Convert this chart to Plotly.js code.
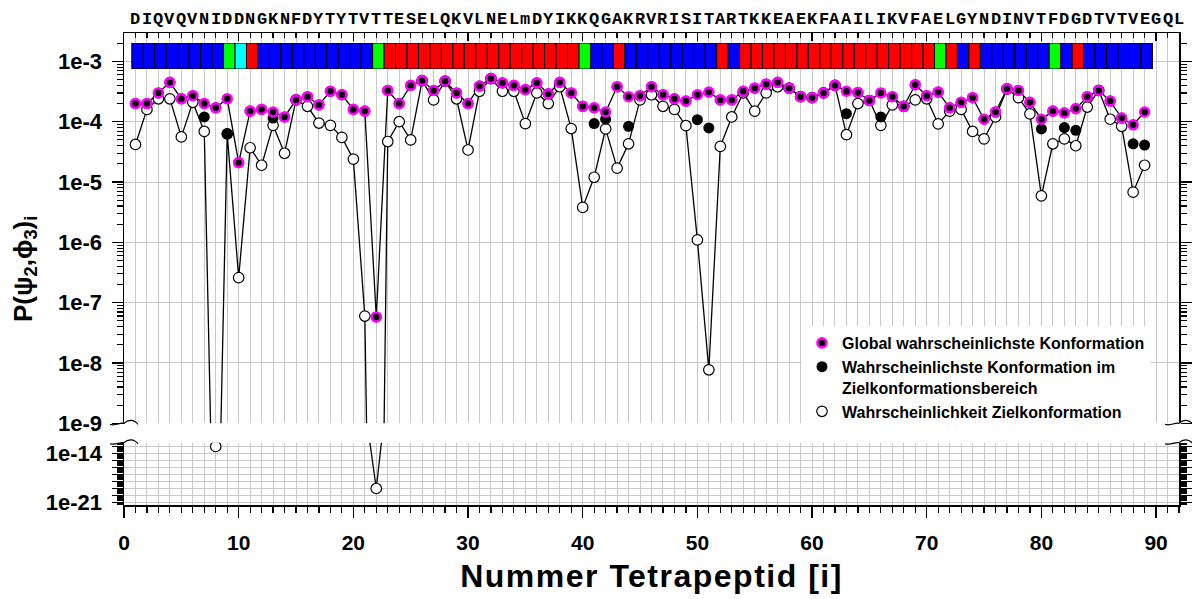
<!DOCTYPE html>
<html><head><meta charset="utf-8">
<script src="https://cdn.plot.ly/plotly-3.0.1.min.js"></script>
<style>html,body{margin:0;padding:0;background:#fff} .xtitle{letter-spacing:1.5px}</style>
</head><body>
<div id="chart" style="width:1192px;height:599px"></div>
<script>
// ---------------- data ----------------
const sequence = "DIQVQVNIDDNGKNFDYTYTVTTESELQKVLNELmDYIKKQGAKRVRISITARTKKEAEKFAAILIKVFAELGYNDINVTFDGDTVTVEGQL";
// secondary-structure class per tetrapeptide (B=blue, G=green, C=cyan, R=red)
const ssClass = "BBBBBBBBGCRBBBBBBBBBBGRRRRRRRRRRRRRRRRRGBBRBBBBBBBBRBRRRRRRRRRRRRRRRRRGRBRBBBBBBGBRBBBBBB".split("");
const globalProb = [2.0e-4,2.0e-4,3.0e-4,4.5e-4,2.4e-4,2.7e-4,2.0e-4,1.7e-4,2.4e-4,2.1e-5,
1.5e-4,1.6e-4,1.45e-4,1.2e-4,2.3e-4,2.6e-4,1.9e-4,3.2e-4,2.8e-4,1.6e-4,
1.5e-4,5.8e-8,3.3e-4,2.0e-4,4.0e-4,4.8e-4,3.3e-4,4.7e-4,3.0e-4,2.0e-4,
3.9e-4,5.2e-4,4.4e-4,4.0e-4,3.4e-4,4.4e-4,2.9e-4,4.5e-4,3.0e-4,1.8e-4,
1.7e-4,1.45e-4,3.8e-4,2.6e-4,2.7e-4,3.8e-4,2.8e-4,2.4e-4,2.2e-4,2.8e-4,
3.1e-4,2.3e-4,2.3e-4,3.2e-4,3.6e-4,4.2e-4,4.5e-4,3.6e-4,2.6e-4,2.5e-4,
3.0e-4,4.0e-4,3.2e-4,3.05e-4,2.25e-4,3.0e-4,2.6e-4,1.8e-4,4.1e-4,2.7e-4,
3.1e-4,1.7e-4,2.1e-4,2.5e-4,1.1e-4,1.45e-4,3.5e-4,3.3e-4,2.1e-4,1.1e-4,
1.5e-4,1.4e-4,1.65e-4,2.6e-4,3.3e-4,2.2e-4,1.15e-4,8.9e-5,1.45e-4];
const regionBestProb = [2.0e-4,2.0e-4,3.0e-4,4.5e-4,2.4e-4,2.7e-4,1.2e-4,1.7e-4,6.3e-5,2.1e-5,
1.5e-4,1.6e-4,1.15e-4,1.2e-4,2.3e-4,2.6e-4,1.9e-4,3.2e-4,2.8e-4,1.6e-4,
1.5e-4,5.8e-8,3.3e-4,2.0e-4,4.0e-4,4.8e-4,3.3e-4,4.7e-4,3.0e-4,2.0e-4,
3.9e-4,5.2e-4,4.4e-4,4.0e-4,3.4e-4,4.4e-4,2.9e-4,4.5e-4,3.0e-4,1.8e-4,
9.3e-5,1.1e-4,3.8e-4,8.4e-5,2.7e-4,3.8e-4,2.8e-4,2.4e-4,2.2e-4,1.08e-4,
7.9e-5,2.3e-4,2.3e-4,3.2e-4,3.6e-4,4.2e-4,4.5e-4,3.6e-4,2.6e-4,2.5e-4,
3.0e-4,4.0e-4,1.36e-4,3.05e-4,2.25e-4,1.2e-4,2.6e-4,1.8e-4,4.1e-4,2.7e-4,
3.1e-4,1.7e-4,2.1e-4,2.5e-4,1.1e-4,1.45e-4,3.5e-4,3.3e-4,2.1e-4,7.6e-5,
1.5e-4,8.0e-5,7.2e-5,2.6e-4,3.3e-4,2.2e-4,1.15e-4,4.3e-5,4.1e-5];
const targetProb = [4.2e-5,1.6e-4,2.4e-4,2.4e-4,5.6e-5,2.1e-4,6.9e-5,1e-13,6.3e-5,2.6e-7,
3.7e-5,1.9e-5,8.7e-5,3.0e-5,2.3e-4,1.8e-4,9.5e-5,8.7e-5,5.5e-5,2.4e-5,
6.0e-8,1e-19,4.7e-5,1.0e-4,5.0e-5,4.8e-4,2.3e-4,4.7e-4,2.4e-4,3.4e-5,
3.2e-4,5.2e-4,3.2e-4,3.2e-4,9.3e-5,3.0e-4,2.0e-4,3.8e-4,7.7e-5,3.8e-6,
1.2e-5,7.6e-5,1.7e-5,4.3e-5,2.3e-4,2.8e-4,1.8e-4,1.6e-4,8.6e-5,1.1e-6,
7.7e-9,3.9e-5,1.2e-4,3.0e-4,1.5e-4,3.0e-4,3.8e-4,3.6e-4,2.6e-4,2.5e-4,
3.0e-4,4.0e-4,6.1e-5,2.0e-4,2.25e-4,8.7e-5,1.9e-4,1.8e-4,2.3e-4,2.4e-4,
9.2e-5,1.5e-4,1.6e-4,6.9e-5,5.2e-5,1.2e-4,3.5e-4,2.5e-4,1.35e-4,5.9e-6,
4.3e-5,5.2e-5,4.0e-5,1.75e-4,3.3e-4,1.1e-4,8.4e-5,6.8e-6,1.9e-5];
const upperTickVals = [1e-9,1e-8,1e-7,1e-6,1e-5,1e-4,1e-3];
const upperTickText = ["1e-9","1e-8","1e-7","1e-6","1e-5","1e-4","1e-3"];
const lowerTickVals = [1e-21,1e-20,1e-19,1e-18,1e-17,1e-16,1e-15,1e-14,1e-13];
const lowerTickText = ["1e-21"," "," "," "," "," "," ","1e-14"," "];
const legendNames = ["Global wahrscheinlichste Konformation",
  "Wahrscheinlichste Konformation im<br>Zielkonformationsbereich",
  "Wahrscheinlichkeit Zielkonformation"];

// ---------------- helpers ----------------
const idx = globalProb.map((_, k) => k + 1);
const seqLetters = sequence.split("");
const ssColors = {B:"#0000ff", G:"#00ff00", C:"#00ffff", R:"#ff0000"};
function minorLog(d0, d1){ const a=[]; for(let d=d0; d<=d1; d++) for(let m=2;m<=9;m++) a.push(m*Math.pow(10,d)); return a; }

const FONT = "Liberation Sans, Arial, sans-serif";
const L = 124, R = 1179, T = 33, B = 505;
const W = R - L, H = B - T;
const pX = px => (px - L) / W, pY = py => (B - py) / H;
function tilde(cx, cy){
  const pts = [[cx-14,cy+1],[cx-8,cy+3],[cx-5,cy-1],[cx,cy],[cx+4,cy-4],[cx+10,cy-4],[cx+14,cy+1]];
  const q = pts.map(p => pX(p[0]).toFixed(5)+","+pY(p[1]).toFixed(5));
  return {type:"path", xref:"paper", yref:"paper", path:"M"+q[0]+" C"+q[1]+" "+q[2]+" "+q[3]+" C"+q[4]+" "+q[5]+" "+q[6],
          line:{color:"black", width:1.2}};
}

const traces = [
  {type:"bar", x: idx, y: idx.map(() => 1), base: 0, width: 1, offset: -0.32,
   marker:{color: ssClass.map(c => ssColors[c]), line:{color:"black", width:1}},
   xaxis:"x", yaxis:"y3", showlegend:false, hoverinfo:"skip"},
  {type:"scatter", mode:"lines", x: idx, y: targetProb, line:{color:"black", width:1.3},
   xaxis:"x", yaxis:"y", showlegend:false, hoverinfo:"skip"},
  {type:"scatter", mode:"lines", x: idx, y: targetProb, line:{color:"black", width:1.3},
   xaxis:"x", yaxis:"y2", showlegend:false, hoverinfo:"skip"},
  {type:"scatter", mode:"lines", x: idx, y: globalProb, line:{color:"black", width:1.3},
   xaxis:"x", yaxis:"y", showlegend:false, hoverinfo:"skip"},
  {type:"scatter", mode:"markers", x: idx, y: targetProb, name: legendNames[2], legendrank: 3,
   marker:{symbol:"circle", size:10.5, color:"white", line:{color:"black", width:1.2}},
   xaxis:"x", yaxis:"y"},
  {type:"scatter", mode:"markers", x: idx, y: targetProb, showlegend:false,
   marker:{symbol:"circle", size:10.5, color:"white", line:{color:"black", width:1.2}},
   xaxis:"x", yaxis:"y2"},
  {type:"scatter", mode:"markers", x: idx, y: regionBestProb, name: legendNames[1], legendrank: 2,
   marker:{symbol:"circle", size:11, color:"black", line:{color:"black", width:0}},
   xaxis:"x", yaxis:"y"},
  {type:"scatter", mode:"markers", x: idx, y: globalProb, name: legendNames[0], legendrank: 1,
   marker:{symbol:"circle", size:9, color:"black", line:{color:"#ff00ff", width:2.6}},
   xaxis:"x", yaxis:"y"},
  {type:"scatter", mode:"markers", x: [], y: [], xaxis:"x2", yaxis:"y", showlegend:false, hoverinfo:"skip"}
];

const seqAnnotations = seqLetters.map((ch, k) => ({
  text: ch, xref:"x", yref:"paper", x: k + 1, y: pY(19), xanchor:"center", yanchor:"middle",
  showarrow:false, font:{family:"Liberation Mono, Courier New, monospace", size:17, color:"black", weight:"bold"}
}));

const gridC = "#c8c8c8";
const xTickFont = {family: FONT, size: 21, color: "black", weight: "bold"};
const yTickFont = {family: FONT, size: 22, color: "black", weight: "bold"};
const layout = {
  width: 1192, height: 599,
  margin: {l: L, r: 1192 - R, t: T, b: 599 - B},
  paper_bgcolor: "white", plot_bgcolor: "rgba(0,0,0,0)",
  font: {family: FONT, color: "black"},
  showlegend: true,
  xaxis: {domain:[0,1], range:[0,92], anchor:"y2", showline:true, linecolor:"black", linewidth:1.5,
    ticks:"outside", tick0:0, dtick:10, ticklen:11, tickwidth:1.3, tickcolor:"black",
    showgrid:true, gridcolor:gridC, gridwidth:1, zeroline:false,
    minor:{dtick:1, tick0:0, ticks:"outside", ticklen:6, tickwidth:1.2, tickcolor:"black", showgrid:true, gridcolor:gridC, gridwidth:1},
    tickfont: xTickFont, ticklabelstandoff: 7,
    title:{text:"Nummer Tetrapeptid [i]", font:{family:FONT, size:32, color:"black", weight:"bold"}, standoff: 12}},
  xaxis2: {overlaying:"x", anchor:"y", side:"top", range:[0,92], showline:true, linecolor:"black", linewidth:1.5,
    ticks:"inside", tick0:0, dtick:10, ticklen:8, tickwidth:1.3, tickcolor:"black", showticklabels:false,
    showgrid:false, zeroline:false,
    minor:{dtick:1, tick0:0, ticks:"inside", ticklen:5, tickwidth:1.2, tickcolor:"black", showgrid:false}},
  yaxis: {type:"log", domain:[pY(423.3), 1], range:[-9, -2.529], anchor:"x",
    showline:true, linecolor:"black", linewidth:1.5, mirror:"ticks",
    tickmode:"array", tickvals: upperTickVals, ticktext: upperTickText,
    ticks:"outside", ticklen:11, tickwidth:1.3, tickcolor:"black",
    showgrid:true, gridcolor:gridC, gridwidth:1, zeroline:false,
    minor:{tickmode:"array", tickvals: minorLog(-10,-3), ticks:"outside", ticklen:6, tickwidth:1.1, tickcolor:"black", showgrid:false},
    tickfont: yTickFont, ticklabelstandoff: 5},
  yaxis2: {type:"log", domain:[0, pY(442.7)], range:[-21.36, -12.46], anchor:"x",
    showline:true, linecolor:"black", linewidth:1.5, mirror:"ticks",
    tickmode:"array", tickvals: lowerTickVals, ticktext: lowerTickText,
    ticks:"outside", ticklen:11, tickwidth:1.3, tickcolor:"black",
    showgrid:true, gridcolor:gridC, gridwidth:1, zeroline:false,
    minor:{tickmode:"array", tickvals: minorLog(-22,-13), ticks:"outside", ticklen:6, tickwidth:1.1, tickcolor:"black", showgrid:false},
    tickfont: yTickFont, ticklabelstandoff: 5},
  yaxis3: {domain:[pY(69), pY(43)], range:[0,1], anchor:"x", visible:false, fixedrange:true},
  bargap: 0,
  legend: {x: pX(802), y: pY(326), xanchor:"left", yanchor:"top", bgcolor:"white", borderwidth:0,
    font:{family:FONT, size:16, color:"black", weight:"bold"}, valign:"top", tracegroupgap:0,
    itemwidth:30, traceorder:"normal"},
  annotations: [
    {text:"P(ψ<sub>2</sub>,ϕ<sub>3</sub>)<sub>i</sub>", xref:"paper", yref:"paper", x: pX(24), y: 0.5,
     xanchor:"center", yanchor:"middle", textangle:-90, showarrow:false,
     font:{family:FONT, size:26, color:"black", weight:"bold"}}
  ].concat(seqAnnotations),
  shapes: [tilde(L, 423.3), tilde(L, 442.7), tilde(R, 423.3), tilde(R, 442.7)]
};

Plotly.newPlot("chart", traces, layout, {displayModeBar:false, staticPlot:true});
</script>
</body></html>
